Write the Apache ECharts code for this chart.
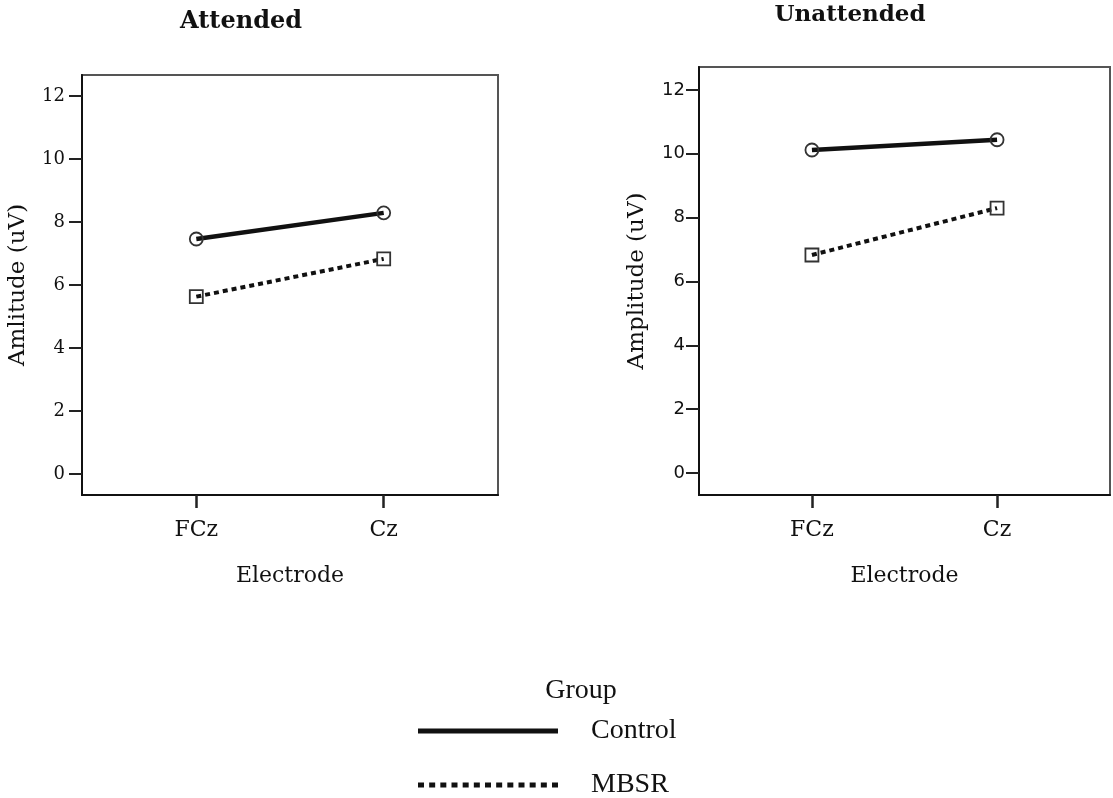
<!DOCTYPE html>
<html>
<head>
<meta charset="utf-8">
<script src="https://cdn.jsdelivr.net/npm/echarts@6/dist/echarts.min.js"></script>
<style>
  html, body { margin: 0; padding: 0; background: #fff; }
  #chart { width: 1113px; height: 798px; }
</style>
</head>
<body>
<div id="chart"></div>
<script>
// Mean amplitudes by electrode for each group and condition
const electrodes = ['FCz', 'Cz'];
const attendedControl = [7.46, 8.29];
const attendedMBSR = [5.63, 6.83];
const unattendedControl = [10.12, 10.44];
const unattendedMBSR = [6.83, 8.30];
const yTicks = [0, 2, 4, 6, 8, 10, 12];
const groups = ['Control', 'MBSR'];

const toPoints = arr => electrodes.map((e, i) => [i, arr[i]]);

const serifFont = 'DejaVu Serif';
const sansFont = 'DejaVu Sans';

function xAxisFor(gridIndex) {
  return {
    gridIndex: gridIndex,
    type: 'value',
    min: -0.61,
    max: 1.61,
    name: 'Electrode',
    nameLocation: 'middle',
    nameGap: 70,
    nameTextStyle: { fontFamily: serifFont, fontSize: 22, color: '#111' },
    axisLine: { show: true, onZero: false, lineStyle: { color: '#111', width: 2 } },
    axisTick: { show: true, length: 13, customValues: [0, 1], lineStyle: { color: '#222', width: 2.5 } },
    axisLabel: {
      customValues: [0, 1],
      margin: 24,
      fontFamily: serifFont,
      fontSize: 22,
      color: '#111',
      formatter: v => electrodes[Math.round(v)]
    },
    splitLine: { show: false }
  };
}

function yAxisFor(gridIndex, name, min, max, labelFont, labelMargin, nameGap) {
  return {
    gridIndex: gridIndex,
    type: 'value',
    min: min,
    max: max,
    name: name,
    nameLocation: 'middle',
    nameGap: nameGap,
    nameRotate: 90,
    nameTextStyle: { fontFamily: serifFont, fontSize: 23, color: '#111' },
    axisLine: { show: true, onZero: false, lineStyle: { color: '#111', width: 2 } },
    axisTick: { show: true, length: 13, customValues: yTicks, lineStyle: { color: '#222', width: 2 } },
    axisLabel: {
      customValues: yTicks,
      margin: labelMargin,
      fontFamily: labelFont,
      fontSize: 18,
      color: '#111'
    },
    splitLine: { show: false }
  };
}

function groupSeries(name, data, xi, yi, dotted) {
  return {
    name: name,
    type: 'line',
    xAxisIndex: xi,
    yAxisIndex: yi,
    data: toPoints(data),
    symbol: dotted ? 'rect' : 'circle',
    symbolSize: 13,
    showSymbol: true,
    z: 3,
    itemStyle: { color: 'rgba(255,255,255,0)', borderColor: '#333', borderWidth: 1.8 },
    lineStyle: dotted
      ? { color: '#111', width: 4, type: [5, 4], cap: 'butt' }
      : { color: '#111', width: 4.5 },
    emphasis: { disabled: true },
    animation: false
  };
}

// Legend icons: a solid bar and a row of square dots
const solidIcon = 'path://M0,0H140V5H0Z';
let dots = '';
for (let i = 0; i < 13; i++) {
  const x0 = (i * 134 / 12).toFixed(2);
  dots += 'M' + x0 + ',0h6v5h-6Z';
}
const dottedIcon = 'path://' + dots;

// One legend row per group, stacked under the "Group" heading
function legendRow(name, icon, top) {
  return {
    left: 418,
    top: top,
    padding: 0,
    itemWidth: 140,
    itemHeight: 5,
    selectedMode: false,
    textStyle: { fontFamily: 'Liberation Serif', fontSize: 28, color: '#111', padding: [0, 0, 0, 28] },
    data: [{ name: name, icon: icon, itemStyle: { color: '#111', borderWidth: 0 } }]
  };
}

const chart = echarts.init(document.getElementById('chart'), null, { renderer: 'canvas' });
chart.setOption({
  backgroundColor: '#fff',
  animation: false,
  title: [
    {
      text: 'Attended', left: 236, top: 5, textAlign: 'center',
      textStyle: { fontFamily: serifFont, fontWeight: 'bold', fontSize: 24, color: '#111' }
    },
    {
      text: 'Unattended', left: 845, top: -1, textAlign: 'center',
      textStyle: { fontFamily: serifFont, fontWeight: 'bold', fontSize: 23, color: '#111' }
    },
    {
      text: 'Group', left: 576, top: 672, textAlign: 'center',
      textStyle: { fontFamily: 'Liberation Serif', fontWeight: 'normal', fontSize: 28, color: '#111' }
    }
  ],
  grid: [
    { left: 82, top: 75, width: 416, height: 420, show: true, borderColor: '#555', borderWidth: 2, backgroundColor: 'transparent' },
    { left: 699, top: 67, width: 411, height: 428, show: true, borderColor: '#555', borderWidth: 2, backgroundColor: 'transparent' }
  ],
  xAxis: [xAxisFor(0), xAxisFor(1)],
  yAxis: [
    yAxisFor(0, 'Amlitude (uV)', -0.667, 12.667, serifFont, 17, 52),
    yAxisFor(1, 'Amplitude (uV)', -0.69, 12.72, sansFont, 14, 50)
  ],
  legend: [
    legendRow(groups[0], solidIcon, 717),
    legendRow(groups[1], dottedIcon, 771)
  ],
  series: [
    groupSeries(groups[0], attendedControl, 0, 0, false),
    groupSeries(groups[1], attendedMBSR, 0, 0, true),
    groupSeries(groups[0], unattendedControl, 1, 1, false),
    groupSeries(groups[1], unattendedMBSR, 1, 1, true)
  ]
});
</script>
</body>
</html>
